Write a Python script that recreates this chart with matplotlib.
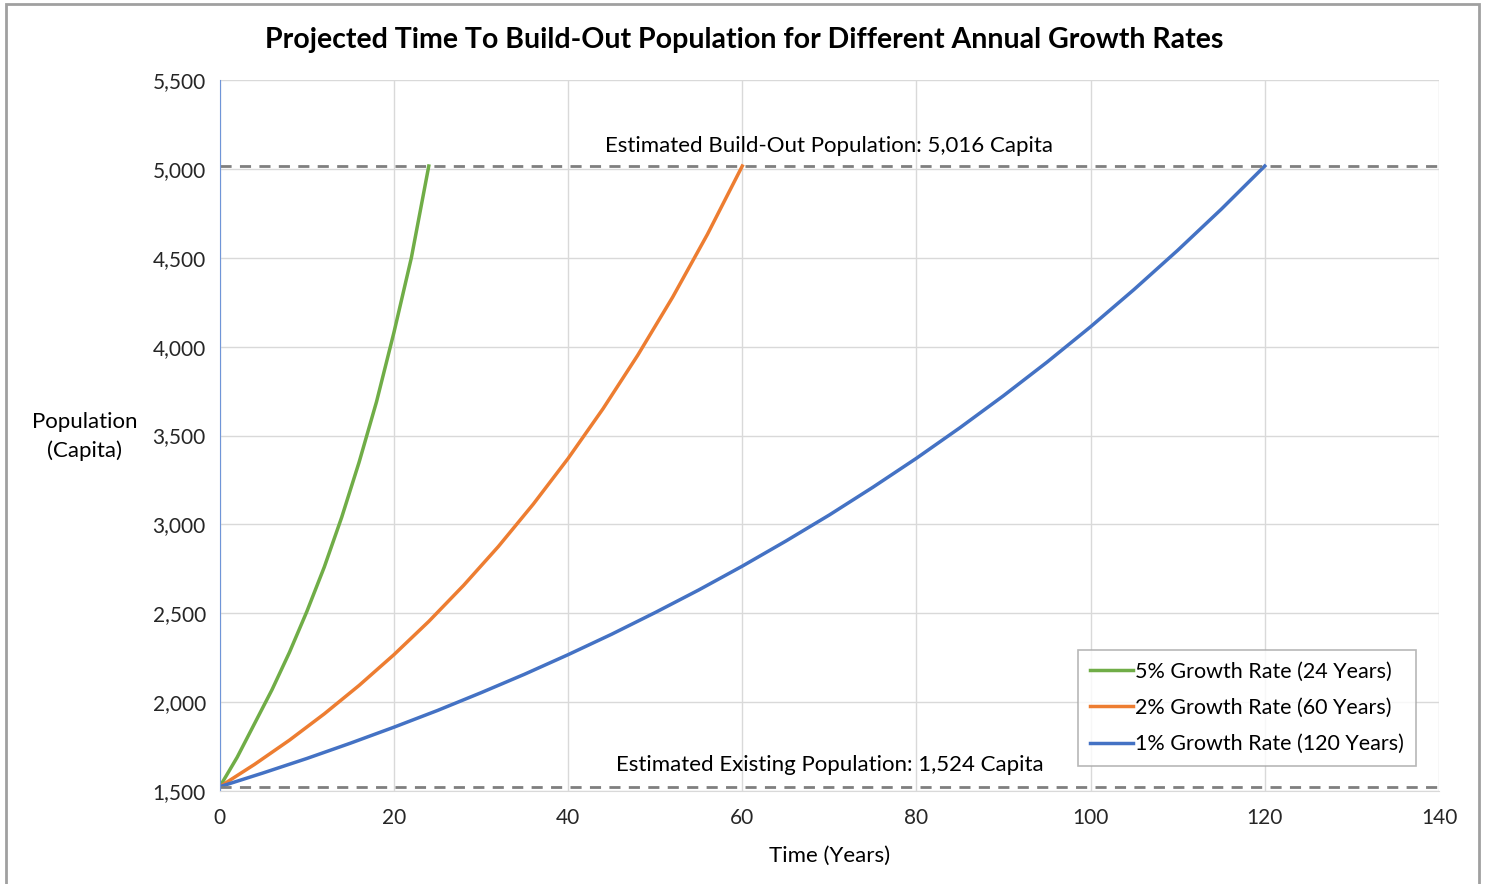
import matplotlib.pyplot as plt
from matplotlib.patches import Rectangle

plt.rcParams['font.family'] = ['Lato', 'DejaVu Sans']

# values
years_5 = [0, 2, 4, 6, 8, 10, 12, 14, 16, 18, 20, 22, 24]
pop_5 = [1524, 1690, 1880, 2070, 2280, 2510, 2760, 3040, 3350, 3690, 4080, 4500, 5016]

years_2 = [0, 4, 8, 12, 16, 20, 24, 28, 32, 36, 40, 44, 48, 52, 56, 60]
pop_2 = [1524, 1650, 1786, 1934, 2094, 2267, 2454, 2657, 2876, 3114, 3371, 3650, 3952, 4278,
         4632, 5016]

years_1 = [0, 5, 10, 15, 20, 25, 30, 35, 40, 45, 50, 55, 60, 65, 70, 75, 80, 85, 90, 95, 100,
           105, 110, 115, 120]
pop_1 = [1524, 1602, 1683, 1769, 1859, 1953, 2053, 2157, 2267, 2382, 2504, 2631, 2765, 2906,
         3053, 3209, 3372, 3544, 3724, 3913, 4112, 4322, 4542, 4773, 5016]

buildout = 5016
existing = 1524

fig = plt.figure(figsize=(14.85, 8.84), dpi=100)
ax = fig.add_axes([0.148, 0.1052, 0.821, 0.8043])

ax.plot(years_5, pop_5, color='#70ad47', lw=2.5, label='5% Growth Rate (24 Years)')
ax.plot(years_2, pop_2, color='#ed7d31', lw=2.5, label='2% Growth Rate (60 Years)')
ax.plot(years_1, pop_1, color='#4472c4', lw=2.5, label='1% Growth Rate (120 Years)')

ax.plot([0, 140], [buildout, buildout], color='#7f7f7f', lw=2, ls=(0, (4, 3)))
ax.plot([0, 140], [existing, existing], color='#7f7f7f', lw=2, ls=(0, (4, 3)))

ax.text(70, 5075, 'Estimated Build-Out Population: 5,016 Capita', ha='center', va='bottom', fontsize=16)
ax.text(70, 1590, 'Estimated Existing Population: 1,524 Capita', ha='center', va='bottom', fontsize=16)

ax.set_xlim(0, 140)
ax.set_ylim(1500, 5500)
ax.set_xticks(range(0, 141, 20))
ax.set_yticks(range(1500, 5501, 500))
ax.set_yticklabels([f'{v:,}' for v in range(1500, 5501, 500)])
ax.tick_params(length=0, labelsize=15, colors='#262626')
ax.tick_params(axis='x', pad=12)
ax.tick_params(axis='y', pad=10)
ax.grid(color='#d9d9d9', lw=1)
ax.set_axisbelow(True)
for s in ['top', 'right']:
    ax.spines[s].set_visible(False)
ax.spines['left'].set_color('#6f95d8')
ax.spines['bottom'].set_color('#d9d9d9')

ax.set_xlabel('Time (Years)', fontsize=16, labelpad=13)
ax.set_ylabel('Population\n(Capita)', fontsize=16, rotation=0, ha='center', va='center',
              linespacing=1.5)
ax.yaxis.set_label_coords(-0.111, 0.498)

leg = ax.legend(loc='lower right', bbox_to_anchor=(0.99, 0.02), fontsize=15.5, frameon=True,
                fancybox=False, edgecolor='#a6a6a6', handlelength=2.0, handletextpad=0.1,
                borderpad=0.55, labelspacing=0.75)
leg.get_frame().set_linewidth(1.2)

fig.suptitle('Projected Time To Build-Out Population for Different Annual Growth Rates',
             x=0.501, y=0.97, fontsize=20.5, fontweight='bold')

fig.patches.append(Rectangle((0.004, -0.01), 0.992, 1.006, transform=fig.transFigure,
                             fill=False, edgecolor='#a0a0a0', lw=2))

fig.savefig('out.png', dpi=100)
